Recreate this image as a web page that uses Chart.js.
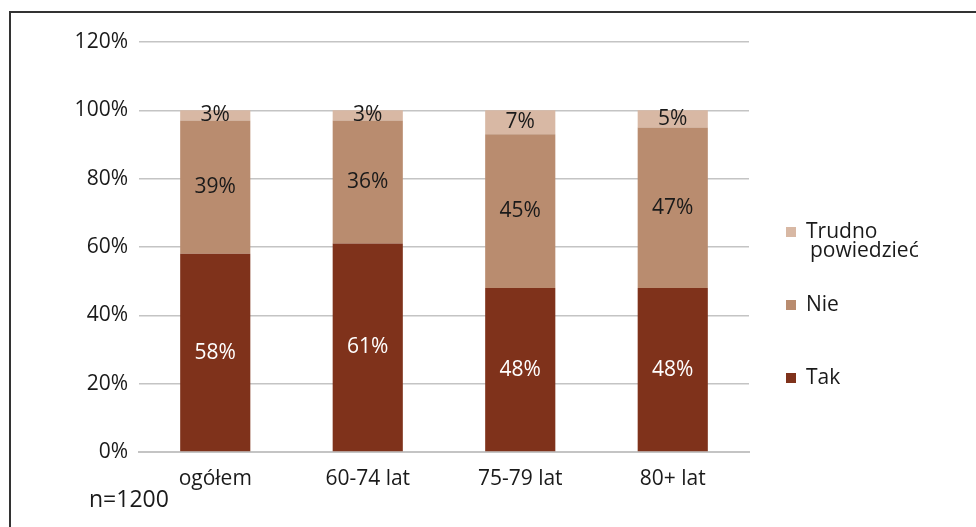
<!DOCTYPE html>
<html>
<head>
<meta charset="utf-8">
<script src="https://cdn.jsdelivr.net/npm/chart.js@4"></script>
<style>
  html, body { margin: 0; padding: 0; background: #fff; }
  #wrap { position: relative; width: 976px; height: 527px; }
  #frame { position: absolute; left: 9px; top: 11px; right: 0; bottom: 0;
           border-left: 2px solid #333; border-top: 2px solid #333; }
  #note { position: absolute; left: 89px; top: 482px; font: 23px "Open Sans", sans-serif; color: #1a1a1a; }
  canvas { position: absolute; left: 0; top: 0; }
</style>
</head>
<body>
<div id="wrap">
  <div id="frame"></div>
  <canvas id="myChart" width="976" height="527"></canvas>
  <div id="note">n=1200</div>
</div>
<script>
const categories = ['ogółem', '60-74 lat', '75-79 lat', '80+ lat'];
const tak = [58, 61, 48, 48];
const nie = [39, 36, 45, 47];
const trudno = [3, 3, 7, 5];
const yTicks = [0, 20, 40, 60, 80, 100, 120];

const FONT = '"Open Sans", sans-serif';
const SIZE = 21;

// value labels in the middle of each segment
const segmentLabels = {
    id: 'segmentLabels',
    afterDatasetsDraw(chart) {
        let ctx = chart.ctx;
        ctx.save();
        ctx.font = SIZE + 'px ' + FONT;
        ctx.textAlign = 'center';
        ctx.textBaseline = 'middle';
        chart.data.datasets.forEach((ds, i) => {
            chart.getDatasetMeta(i).data.forEach((bar, j) => {
                let mid = (bar.y + bar.base) / 2;
                ctx.fillStyle = ds.labelColor;
                ctx.fillText(ds.data[j] + '%', bar.x, mid);
            });
        });
        ctx.restore();
    }
};

// legend on the right, top item first
const sideLegend = {
    id: 'sideLegend',
    afterDraw(chart) {
        let ctx = chart.ctx;
        ctx.save();
        ctx.font = SIZE + 'px ' + FONT;
        ctx.textBaseline = 'middle';
        ctx.textAlign = 'left';
        let items = chart.data.datasets.slice().reverse();
        items.forEach((ds, i) => {
            let y = 232 + i * 73;
            ctx.fillStyle = ds.backgroundColor;
            ctx.fillRect(786, y - 5, 10, 10);
            ctx.fillStyle = '#1a1a1a';
            let lines = Array.isArray(ds.legendText) ? ds.legendText : [ds.label];
            lines.forEach((t, k) => ctx.fillText(t, 806 + (k ? 4 : 0), y + k * 19));
        });
        ctx.restore();
    }
};

let chart = new Chart(document.getElementById('myChart'), {
    type: 'bar',
    data: {
        labels: categories,
        datasets: [{
            label: 'Tak',
            data: tak,
            backgroundColor: '#7f321b',
            labelColor: '#ffffff'
        }, {
            label: 'Nie',
            data: nie,
            backgroundColor: '#b98c6f',
            labelColor: '#1a1a1a'
        }, {
            label: 'Trudno powiedzieć',
            legendText: ['Trudno', 'powiedzieć'],
            data: trudno,
            backgroundColor: '#d8b8a4',
            labelColor: '#1a1a1a'
        }]
    },
    options: {
        responsive: false,
        animation: false,
        barPercentage: 0.46,
        categoryPercentage: 1,
        layout: { padding: { left: 0, right: 227, top: 42, bottom: 0 } },
        plugins: {
            legend: { display: false },
            tooltip: { enabled: false }
        },
        scales: {
            x: {
                stacked: true,
                grid: { display: false },
                border: { color: '#c4c4c4', width: 2 },
                ticks: { color: '#1a1a1a', font: { family: FONT, size: SIZE }, padding: 6 },
                afterFit: (s) => { s.height = 75; }
            },
            y: {
                stacked: true,
                min: 0,
                max: 120,
                afterBuildTicks: (s) => { s.ticks = yTicks.map(v => ({ value: v })); },
                grid: { color: '#c4c4c4', lineWidth: 1.5, drawTicks: false },
                border: { display: false },
                ticks: {
                    color: '#1a1a1a',
                    font: { family: FONT, size: SIZE },
                    padding: 11,
                    callback: (v) => v + '%'
                },
                afterFit: (s) => { s.width = 139; }
            }
        }
    },
    plugins: [segmentLabels, sideLegend]
});
</script>
</body>
</html>
